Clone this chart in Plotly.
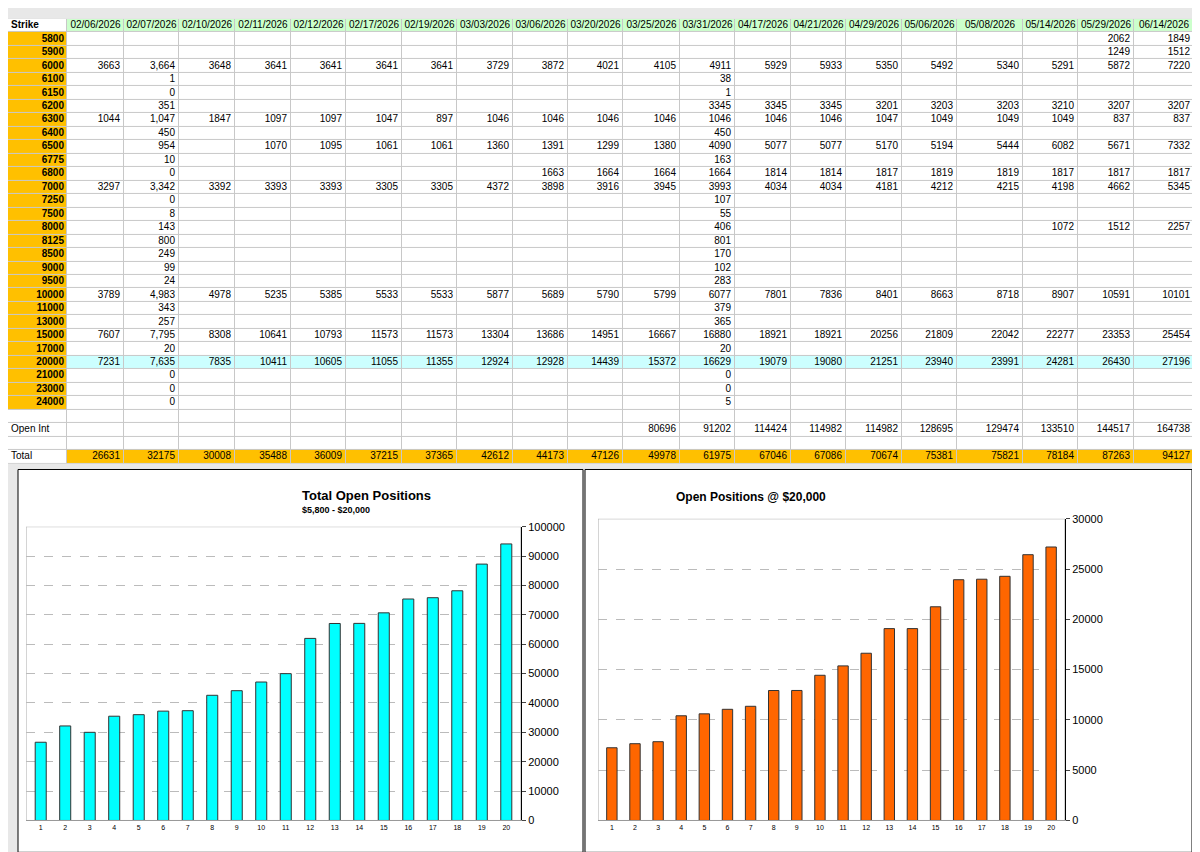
import plotly.graph_objects as go

dates = ["02/06/2026", "02/07/2026", "02/10/2026", "02/11/2026", "02/12/2026", "02/17/2026",
         "02/19/2026", "03/03/2026", "03/06/2026", "03/20/2026", "03/25/2026", "03/31/2026",
         "04/17/2026", "04/21/2026", "04/29/2026", "05/06/2026", "05/08/2026", "05/14/2026",
         "05/29/2026", "06/14/2026"]

strikes = [5800, 5900, 6000, 6100, 6150, 6200, 6300, 6400, 6500, 6775, 6800, 7000, 7250, 7500,
           8000, 8125, 8500, 9000, 9500, 10000, 11000, 13000, 15000, 17000, 20000, 21000, 23000, 24000]

N = None
# one list per strike, one value per date column
rows = {
    5800: [N]*18 + [2062, 1849],
    5900: [N]*18 + [1249, 1512],
    6000: [3663, "3,664", 3648, 3641, 3641, 3641, 3641, 3729, 3872, 4021, 4105, 4911, 5929, 5933, 5350, 5492, 5340, 5291, 5872, 7220],
    6100: [N, 1] + [N]*9 + [38] + [N]*8,
    6150: [N, 0] + [N]*9 + [1] + [N]*8,
    6200: [N, 351] + [N]*9 + [3345, 3345, 3345, 3201, 3203, 3203, 3210, 3207, 3207],
    6300: [1044, "1,047", 1847, 1097, 1097, 1047, 897, 1046, 1046, 1046, 1046, 1046, 1046, 1046, 1047, 1049, 1049, 1049, 837, 837],
    6400: [N, 450] + [N]*9 + [450] + [N]*8,
    6500: [N, 954, N, 1070, 1095, 1061, 1061, 1360, 1391, 1299, 1380, 4090, 5077, 5077, 5170, 5194, 5444, 6082, 5671, 7332],
    6775: [N, 10] + [N]*9 + [163] + [N]*8,
    6800: [N, 0] + [N]*6 + [1663, 1664, 1664, 1664, 1814, 1814, 1817, 1819, 1819, 1817, 1817, 1817],
    7000: [3297, "3,342", 3392, 3393, 3393, 3305, 3305, 4372, 3898, 3916, 3945, 3993, 4034, 4034, 4181, 4212, 4215, 4198, 4662, 5345],
    7250: [N, 0] + [N]*9 + [107] + [N]*8,
    7500: [N, 8] + [N]*9 + [55] + [N]*8,
    8000: [N, 143] + [N]*9 + [406] + [N]*5 + [1072, 1512, 2257],
    8125: [N, 800] + [N]*9 + [801] + [N]*8,
    8500: [N, 249] + [N]*9 + [170] + [N]*8,
    9000: [N, 99] + [N]*9 + [102] + [N]*8,
    9500: [N, 24] + [N]*9 + [283] + [N]*8,
    10000: [3789, "4,983", 4978, 5235, 5385, 5533, 5533, 5877, 5689, 5790, 5799, 6077, 7801, 7836, 8401, 8663, 8718, 8907, 10591, 10101],
    11000: [N, 343] + [N]*9 + [379] + [N]*8,
    13000: [N, 257] + [N]*9 + [365] + [N]*8,
    15000: [7607, "7,795", 8308, 10641, 10793, 11573, 11573, 13304, 13686, 14951, 16667, 16880, 18921, 18921, 20256, 21809, 22042, 22277, 23353, 25454],
    17000: [N, 20] + [N]*9 + [20] + [N]*8,
    20000: [7231, "7,635", 7835, 10411, 10605, 11055, 11355, 12924, 12928, 14439, 15372, 16629, 19079, 19080, 21251, 23940, 23991, 24281, 26430, 27196],
    21000: [N, 0] + [N]*9 + [0] + [N]*8,
    23000: [N, 0] + [N]*9 + [0] + [N]*8,
    24000: [N, 0] + [N]*9 + [5] + [N]*8,
}

open_int = [N]*10 + [80696, 91202, 114424, 114982, 114982, 128695, 129474, 133510, 144517, 164738]
totals = [26631, 32175, 30008, 35488, 36009, 37215, 37365, 42612, 44173, 47126,
          49978, 61975, 67046, 67086, 70674, 75381, 75821, 78184, 87263, 94127]
pos_20000 = [7231, 7635, 7835, 10411, 10605, 11055, 11355, 12924, 12928, 14439,
             15372, 16629, 19079, 19080, 21251, 23940, 23991, 24281, 26430, 27196]
periods = list(range(1, 21))

# sheet geometry (column edges in px across the page width)
col_edges = [0, 59, 116, 171, 227, 283, 338, 394, 449, 505, 560, 615, 672, 727, 783, 838, 894, 949,
             1015, 1070, 1126, 1186]
row_labels = ["Strike"] + [str(s) for s in strikes] + ["", "Open Int", "", "Total"]
nrows = len(row_labels)

# fill codes: 0 white, 1 gold, 2 cyan, 3 green
z = []
for i, lab in enumerate(row_labels):
    r = []
    for j in range(21):
        if i == 0:
            r.append(0 if j == 0 else 3)
        elif j == 0:
            r.append(1 if i <= len(strikes) else 0)
        elif lab == "20000":
            r.append(2)
        elif lab == "Total":
            r.append(1)
        else:
            r.append(0)
    z.append(r)

fig = go.Figure()

fig.add_trace(go.Heatmap(
    z=z, x=col_edges, y=list(range(nrows + 1)), xgap=1, ygap=1, showscale=False, hoverinfo="skip",
    zmin=0, zmax=3,
    colorscale=[[0, "white"], [0.25, "white"], [0.25, "#FFC000"], [0.5, "#FFC000"],
                [0.5, "#CCFFFF"], [0.75, "#CCFFFF"], [0.75, "#CCFFCC"], [1, "#CCFFCC"]],
    xaxis="x3", yaxis="y3"))

# header texts
fig.add_trace(go.Scatter(
    x=[(col_edges[j] + col_edges[j + 1]) / 2 for j in range(1, 21)], y=[0.5]*20, text=dates,
    mode="text", textposition="middle center", textfont=dict(family="Arial", size=10),
    xaxis="x3", yaxis="y3", hoverinfo="skip"))
# strike labels
fig.add_trace(go.Scatter(
    x=[col_edges[1] - 3]*len(strikes), y=[i + 1.5 for i in range(len(strikes))],
    text=["<b>%d</b>" % s for s in strikes], mode="text", textposition="middle left",
    textfont=dict(family="Arial", size=10), xaxis="x3", yaxis="y3", hoverinfo="skip"))
# left labels
fig.add_trace(go.Scatter(
    x=[3, 3, 3], y=[0.5, 30.5, 32.5], text=["<b>Strike</b>", "Open Int", "Total"],
    mode="text", textposition="middle right", textfont=dict(family="Arial", size=10),
    xaxis="x3", yaxis="y3", hoverinfo="skip"))
# values
vx, vy, vt = [], [], []
for j in range(20):
    col = [rows[s][j] for s in strikes] + [None, open_int[j], None, totals[j]]
    for i, v in enumerate(col):
        if v is not None:
            vx.append(col_edges[j + 2] - 4)
            vy.append(i + 1.5)
            vt.append(str(v))
fig.add_trace(go.Scatter(x=vx, y=vy, text=vt, mode="text", textposition="middle left",
                         textfont=dict(family="Arial", size=10), xaxis="x3", yaxis="y3",
                         hoverinfo="skip"))

fig.add_trace(go.Bar(x=periods, y=totals, marker=dict(color="#00FFFF", line=dict(color="#333333", width=1)),
                     xaxis="x", yaxis="y"))
fig.add_trace(go.Bar(x=periods, y=pos_20000, marker=dict(color="#FF6600", line=dict(color="#333333", width=1)),
                     xaxis="x2", yaxis="y2"))

ax = dict(tickmode="linear", dtick=1, tickfont=dict(size=7, family="Arial"), showgrid=False,
          showline=True, linecolor="#999999", ticks="", range=[0.4, 20.6], zeroline=False)
fig.update_layout(
    width=1200, height=852, margin=dict(l=0, r=0, t=0, b=0),
    paper_bgcolor="#E8E8E8", plot_bgcolor="#C8C8C8", showlegend=False, bargap=0.55,
    font=dict(family="Arial", color="black"),
    xaxis3=dict(domain=[0, 1], anchor="y3", range=[0, 1200], visible=False),
    yaxis3=dict(domain=[1 - 456/852, 1 - 5/852], anchor="x3", range=[nrows, 0], visible=False),
    xaxis=dict(domain=[18/1200, 513/1200], anchor="y", **ax),
    yaxis=dict(domain=[1 - 818/852, 1 - 520/852], anchor="x", side="right", range=[0, 100000],
               dtick=10000, tickformat="d", gridcolor="#BBBBBB", griddash="dash", tickfont=dict(size=11),
               showline=True, linecolor="black", ticks="outside", ticklen=4, zeroline=False),
    xaxis2=dict(domain=[590/1200, 1057/1200], anchor="y2", **ax),
    yaxis2=dict(domain=[1 - 818/852, 1 - 512/852], anchor="x2", side="right", range=[0, 30000],
                dtick=5000, tickformat="d", gridcolor="#BBBBBB", griddash="dash", tickfont=dict(size=11),
                showline=True, linecolor="black", ticks="outside", ticklen=4, zeroline=False),
    shapes=[
        dict(type="rect", xref="paper", yref="paper", x0=10/1200, x1=575/1200, y0=0.002, y1=1 - 462/852,
             line=dict(color="black", width=1), fillcolor="white", layer="below"),
        dict(type="rect", xref="paper", yref="paper", x0=577/1200, x1=1184/1200, y0=0.002, y1=1 - 462/852,
             line=dict(color="black", width=1), fillcolor="white", layer="below"),
        dict(type="rect", xref="x", yref="y", x0=0.4, x1=20.6, y0=0, y1=100000,
             line=dict(color="#AAAAAA", width=1), fillcolor="white", layer="below"),
        dict(type="rect", xref="x2", yref="y2", x0=0.4, x1=20.6, y0=0, y1=30000,
             line=dict(color="#AAAAAA", width=1), fillcolor="white", layer="below"),
    ],
    annotations=[
        dict(text="<b>Total Open Positions</b>", x=292/1200, y=1 - 488/852, xref="paper", yref="paper",
             showarrow=False, font=dict(size=13)),
        dict(text="<b>$5,800 - $20,000</b>", x=292/1200, y=1 - 503/852, xref="paper", yref="paper",
             showarrow=False, font=dict(size=9)),
        dict(text="<b>Open Positions @ $20,000</b>", x=820/1200, y=1 - 490/852, xref="paper", yref="paper",
             showarrow=False, font=dict(size=12)),
    ],
)

fig.write_html("out.html")
